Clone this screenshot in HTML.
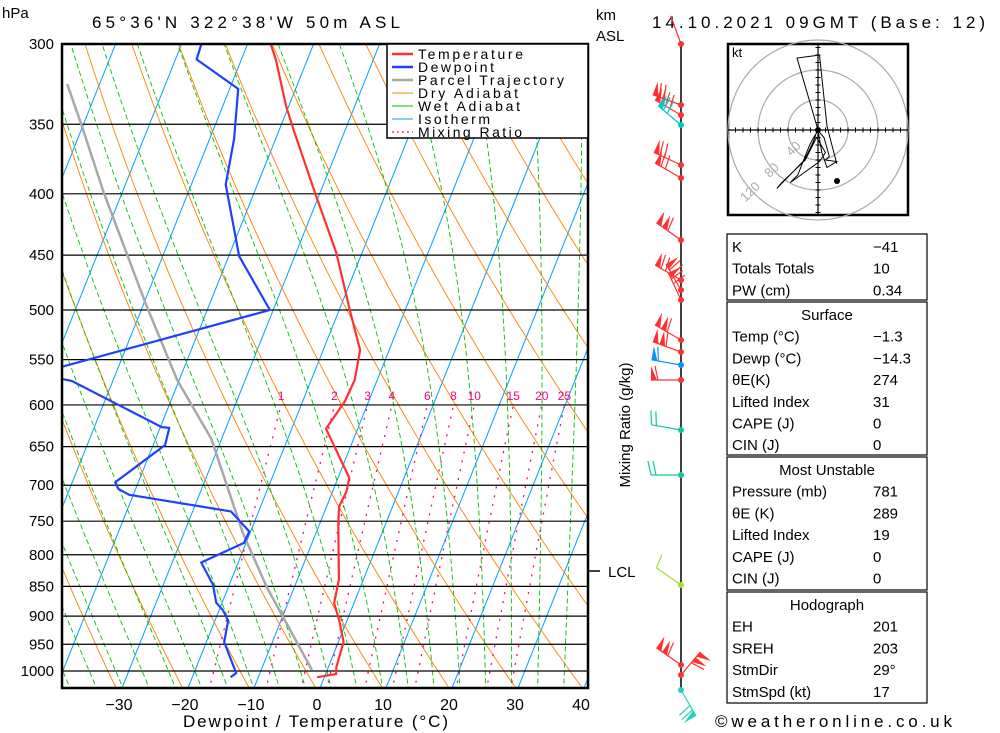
<!DOCTYPE html>
<html><head><meta charset="utf-8">
<style>
body{margin:0;background:#fff;}
svg{display:block;font-family:"Liberation Sans","DejaVu Sans",sans-serif;}
</style></head>
<body>
<svg id="chart" width="1000" height="733" viewBox="0 0 1000 733" xmlns="http://www.w3.org/2000/svg">
<defs><clipPath id="plotclip"><rect x="62" y="44" width="526" height="644"/></clipPath></defs>
<rect width="1000" height="733" fill="#fff"/>
<g id="bg" clip-path="url(#plotclip)"></g>
<g id="data" clip-path="url(#plotclip)"></g>
<g id="axes"></g>
<g>
<rect x="387" y="44" width="201" height="94" fill="#fff" stroke="#000" stroke-width="1.5"/>
<g font-size="14" fill="#000">
<line x1="392" y1="54" x2="413" y2="54" stroke="#ff3030" stroke-width="2.5"/><text x="418" y="59" textLength="105">Temperature</text>
<line x1="392" y1="67" x2="413" y2="67" stroke="#2040ff" stroke-width="2.5"/><text x="418" y="72" textLength="76">Dewpoint</text>
<line x1="392" y1="80" x2="413" y2="80" stroke="#a8a8a8" stroke-width="2.5"/><text x="418" y="85" textLength="146">Parcel Trajectory</text>
<line x1="392" y1="93" x2="413" y2="93" stroke="#ff8000" stroke-width="1"/><text x="418" y="98" textLength="100">Dry Adiabat</text>
<line x1="392" y1="106" x2="413" y2="106" stroke="#00c000" stroke-width="1"/><text x="418" y="111" textLength="102">Wet Adiabat</text>
<line x1="392" y1="119" x2="413" y2="119" stroke="#00a0ff" stroke-width="1"/><text x="418" y="124" textLength="72">Isotherm</text>
<line x1="392" y1="132" x2="413" y2="132" stroke="#ff0080" stroke-width="1.2" stroke-dasharray="2,3"/><text x="418" y="137" textLength="104">Mixing Ratio</text>
</g></g>
<g font-size="16" fill="#000">
<text x="2" y="18" font-size="15">hPa</text>
<text x="92" y="28" font-size="17" textLength="308">65°36'N  322°38'W  50m  ASL</text>
<text x="596" y="20" font-size="15">km</text>
<text x="596" y="41" font-size="15">ASL</text>
<text x="652" y="28" font-size="17" textLength="333">14.10.2021  09GMT  (Base: 12)</text>
<text x="183" y="727" font-size="17" textLength="265">Dewpoint / Temperature (°C)</text>
<text x="715" y="727" font-size="17" textLength="237">©weatheronline.co.uk</text>
<text transform="translate(630,425) rotate(-90)" font-size="15" text-anchor="middle">Mixing Ratio (g/kg)</text>
<line x1="588" y1="571" x2="600" y2="571" stroke="#000" stroke-width="1.5"/>
<text x="608" y="577" font-size="15">LCL</text>
</g>
<g id="wind"></g>
<g id="hodo"></g>
<g id="tables"></g>
</svg>
<script>
// ---- data ----
const tempP = [1012,1006,992,946,907,878,839,751,729,708,690,628,596,572,540,500,448,399,354,338,309,300];
const tempT = [-1.1,1.6,1.2,0.8,-1.2,-3.0,-3.7,-7.3,-8.1,-7.9,-8.3,-14.8,-13.6,-13.4,-14.4,-18.4,-23.9,-30.8,-37.8,-40.4,-44.8,-46.5];
const dewP = [1012,1004,946,908,890,877,847,812,782,765,736,713,705,696,648,627,626,573,565,500,451,432,393,360,327,309,300];
const dewT = [-14.2,-13.6,-17.3,-18.0,-19.4,-20.9,-22.5,-25.6,-20.3,-20.2,-24.2,-40.6,-42.6,-43.5,-38.2,-38.6,-39.8,-56.2,-62,-30.5,-38.4,-40.4,-44.8,-46.3,-48.7,-56.8,-57.0];
const parcelP = [998,851,767,640,572,494,399,349,324];
const parcelT = [-2.3,-14.2,-21.1,-31.6,-40.3,-49.7,-62.8,-70.5,-74.9];
const pressureTicks = [300,350,400,450,500,550,600,650,700,750,800,850,900,950,1000];
const tempTicks = [-30,-20,-10,0,10,20,30,40];
const mixRatios = [1,2,3,4,6,8,10,15,20,25];
const hodoU = [0,-2,-7,-12,-27,-37,-20,2,10,-2,-17,-48,-55,-18,-6,-2,-1,8,15,10,25,20,12,5,0];
const hodoV = [0,-4,-12,-22,-60,-70,-58,-42,-30,-10,-40,-70,-78,-40,-15,-3,0,-10,-35,-40,-42,-45,-50,-30,0];
const hodoTopU = [0,-28,-5,2,12,25];
const hodoTopV = [0,96,99,100,5,-45];
const stats1 = [["K","−41"],["Totals Totals","10"],["PW (cm)","0.34"]];
const statsSurf = [["Temp (°C)","−1.3"],["Dewp (°C)","−14.3"],["θE(K)","274"],["Lifted Index","31"],["CAPE (J)","0"],["CIN (J)","0"]];
const statsMU = [["Pressure (mb)","781"],["θE (K)","289"],["Lifted Index","19"],["CAPE (J)","0"],["CIN (J)","0"]];
const statsHodo = [["EH","201"],["SREH","203"],["StmDir","29°"],["StmSpd (kt)","17"]];

// ---- axis functions ----
const NS='http://www.w3.org/2000/svg';
function yP(p){return 671-520.8*Math.log(1000/p);}
function xT(T,p){return 320+6.6*T+0.4*(688-yP(p));}
function mk(tag,attrs,parent){const e=document.createElementNS(NS,tag);for(const k in attrs)e.setAttribute(k,attrs[k]);parent.appendChild(e);return e;}
const bg=document.getElementById('bg'),dat=document.getElementById('data'),ax=document.getElementById('axes');
function curve(fn,p0,p1,n){let s='';for(let i=0;i<=n;i++){const p=p0+(p1-p0)*i/n;const T=fn(p);s+=(i?'L':'M')+xT(T,p).toFixed(1)+','+yP(p).toFixed(1);}return s;}

for(let T=-120;T<=40;T+=10){
 const l=mk('line',{x1:xT(T,1040),y1:yP(1040),x2:xT(T,300),y2:yP(300),stroke:'#00a0ff','stroke-width':1},bg);
 
 
}
for(let th=230;th<=480;th+=10){
 const e=mk('path',{d:curve(p=>th*Math.pow(p/1000,0.2857)-273.15,1040,300,40),fill:'none',stroke:'#ff8000','stroke-width':0.9},bg);
 
 
}
function es(T){return 6.112*Math.exp(17.67*T/(T+243.5));}
function moist(T0){
 const pts=[];const Rd=287,cp=1004,Lv=2.5e6,eps=0.622;
 function dTdp(T,p){const e=es(T-273.15);const rs=eps*e/(p-e);return (Rd*T+Lv*rs)/(p*(cp+Lv*Lv*rs*eps/(Rd*T*T)));}
 let T=T0+273.15;for(let q=1000;q<1040;q+=2){T+=dTdp(T,q)*2;}
 for(let p=1040;p>=300;p-=5){pts.push([p,T-273.15]);T-=dTdp(T,p)*5;}
 return pts;
}
for(let T0=-40;T0<=36;T0+=4){
 const pts=moist(T0);let d='';pts.forEach((q,i)=>{d+=(i?'L':'M')+xT(q[1],q[0]).toFixed(1)+','+yP(q[0]).toFixed(1);});
 const e=mk('path',{d:d,fill:'none',stroke:'#00c000','stroke-width':0.9,'stroke-dasharray':'5,3'},bg);
 
 
}
function tdw(w,p){const e=w*p/(622+w);const l=Math.log(e/6.112);return 243.5*l/(17.67-l);}
mixRatios.forEach(w=>{
 const e=mk('path',{d:curve(p=>tdw(w,p),1040,600,20),fill:'none',stroke:'#ff0080','stroke-width':1.3,'stroke-dasharray':'2,7'},bg);
 
 
 const t=mk('text',{x:xT(tdw(w,600),600),y:yP(600)-5,'font-size':12,fill:'#ff0080','text-anchor':'middle'},ax);
 t.textContent=w;
 
 
});
pressureTicks.forEach(p=>{
 const l=mk('line',{x1:62,y1:yP(p),x2:588,y2:yP(p),stroke:'#000','stroke-width':1.2},bg);
 
 
 const t=mk('text',{x:54,y:yP(p)+5,'font-size':15,'text-anchor':'end'},ax);
 t.textContent=p;
 
 
});
tempTicks.forEach(T=>{
 const t=mk('text',{x:320+6.6*T-3,y:710,'font-size':16,'text-anchor':'middle'},ax);
 t.textContent=(T<0?'−':'')+Math.abs(T);
 
 
});
const fr=mk('rect',{x:62,y:44,width:526,height:644,fill:'none',stroke:'#000','stroke-width':2.5},ax);



function prof(P,T,color,w,name){
 let d='';P.forEach((p,i)=>{d+=(i?'L':'M')+xT(T[i],p).toFixed(1)+','+yP(p).toFixed(1);});
 const e=mk('path',{d:d,fill:'none',stroke:color,'stroke-width':w,'stroke-linejoin':'round'},dat);
 
 
}
prof(parcelP,parcelT,'#a8a8a8',2.5,'parcel-trajectory-line');
prof(dewP,dewT,'#2040ff',2.2,'dewpoint-line');
prof(tempP,tempT,'#ff3030',2.2,'temperature-line');

// wind profile
const wg=document.getElementById('wind');
const wl=mk('line',{x1:681,y1:44,x2:681,y2:688,stroke:'#000','stroke-width':1.5},wg);


const barbY=[44,105,115,125,165,178,240,280,290,300,340,352,365,380,430,475,585,665,675,690];
const barbA=[-20,-70,-60,-50,-65,-60,-55,-60,-30,-25,-60,-70,-80,-90,-80,-90,-55,-55,40,150];
const barbF=[0,1,1,1,1,1,2,1,1,1,2,2,1,1,0,0,0,2,2,1];
const barbL=[0,2,3,2,2,2,1,2,2,2,1,1,1,1,2,2,1,1,1,2];
const barbC=['#ff3030','#ff3030','#ff3030','#00c8c8','#ff3030','#ff3030','#ff3030','#ff3030','#ff3030','#ff3030','#ff3030','#ff3030','#1090ff','#ff3030','#10c8a0','#10c8a0','#a0e030','#ff3030','#ff3030','#20d0c0'];
barbY.forEach((y,i)=>{
 const a=barbA[i]*Math.PI/180,len=30,x0=681;
 const dx=Math.sin(a),dy=-Math.cos(a);
 const ex=x0+dx*len,ey=y+dy*len;
 const g=mk('g',{},wg);
 
 
 mk('line',{x1:x0,y1:y,x2:ex,y2:ey,stroke:barbC[i],'stroke-width':1.2},g);
 const px=-dy,py=dx;
 let k=0;
 for(let f=0;f<barbF[i];f++){const bx=ex-dx*k,by=ey-dy*k;mk('polygon',{points:`${bx},${by} ${bx+px*14},${by+py*14} ${bx-dx*6},${by-dy*6}`,fill:barbC[i]},g);k+=7;}
 for(let f=0;f<barbL[i];f++){const bx=ex-dx*k,by=ey-dy*k;mk('line',{x1:bx,y1:by,x2:bx+px*14+dx*3,y2:by+py*14+dy*3,stroke:barbC[i],'stroke-width':1.2},g);k+=5;}
 mk('circle',{cx:x0,cy:y,r:3,fill:barbC[i]},g);
});

// hodograph
const hg=document.getElementById('hodo');
const hcx=818,hcy=130,hs=0.75;
const hb=mk('rect',{x:728,y:44,width:180,height:171,fill:'#fff',stroke:'#000','stroke-width':2.5},hg);


[40,80,120].forEach(r=>{const c=mk('circle',{cx:hcx,cy:hcy,r:r*hs,fill:'none',stroke:'#aaa','stroke-width':1.2},hg);
 const t=mk('text',{x:hcx-r*hs*0.72,y:hcy+r*hs*0.72,'font-size':13,fill:'#aaa','text-anchor':'middle',transform:`rotate(-45 ${hcx-r*hs*0.72} ${hcy+r*hs*0.72})`},hg);t.textContent=r;});
mk('line',{x1:728,y1:hcy,x2:908,y2:hcy,stroke:'#000','stroke-width':1.2},hg);
mk('line',{x1:hcx,y1:44,x2:hcx,y2:215,stroke:'#000','stroke-width':1.2},hg);
for(let v=-110;v<=110;v+=10){if(!v)continue;mk('line',{x1:hcx+v*hs,y1:hcy-2.5,x2:hcx+v*hs,y2:hcy+2.5,stroke:'#000'},hg);mk('line',{x1:hcx-2.5,y1:hcy-v*hs,x2:hcx+2.5,y2:hcy-v*hs,stroke:'#000'},hg);}
const kt=mk('text',{x:732,y:57,'font-size':13},hg);kt.textContent='kt';
let hd='';hodoU.forEach((u,i)=>{hd+=(i?'L':'M')+(hcx+u*hs).toFixed(1)+','+(hcy-hodoV[i]*hs).toFixed(1);});
hodoTopU.forEach((u,i)=>{hd+='L'+(hcx+u*hs).toFixed(1)+','+Math.max(45,hcy-hodoTopV[i]*hs).toFixed(1);});
const hp=mk('path',{d:hd,fill:'none',stroke:'#000','stroke-width':1},hg);


mk('circle',{cx:hcx,cy:hcy,r:3,fill:'#000'},hg);
mk('circle',{cx:837,cy:181,r:3,fill:'#000'},hg);

// tables
const tg=document.getElementById('tables');
function block(y0,h,header,rows,name){
 const r=mk('rect',{x:727,y:y0,width:200,height:h,fill:'#fff',stroke:'#000','stroke-width':1.2},tg);
 
 
 let y=y0+18;
 if(header){const t=mk('text',{x:827,y:y,'font-size':15,'text-anchor':'middle'},tg);t.textContent=header;y+=21.7;}
 rows.forEach(rw=>{const a=mk('text',{x:732,y:y,'font-size':15},tg);a.textContent=rw[0];
  const b=mk('text',{x:873,y:y,'font-size':15},tg);b.textContent=rw[1];y+=21.7;});
}
block(234,66,null,stats1,'indices');
block(302,153,'Surface',statsSurf,'surface');
block(457,133,'Most Unstable',statsMU,'most-unstable');
block(592,111,'Hodograph',statsHodo,'hodograph-stats');
</script>
</body></html>
